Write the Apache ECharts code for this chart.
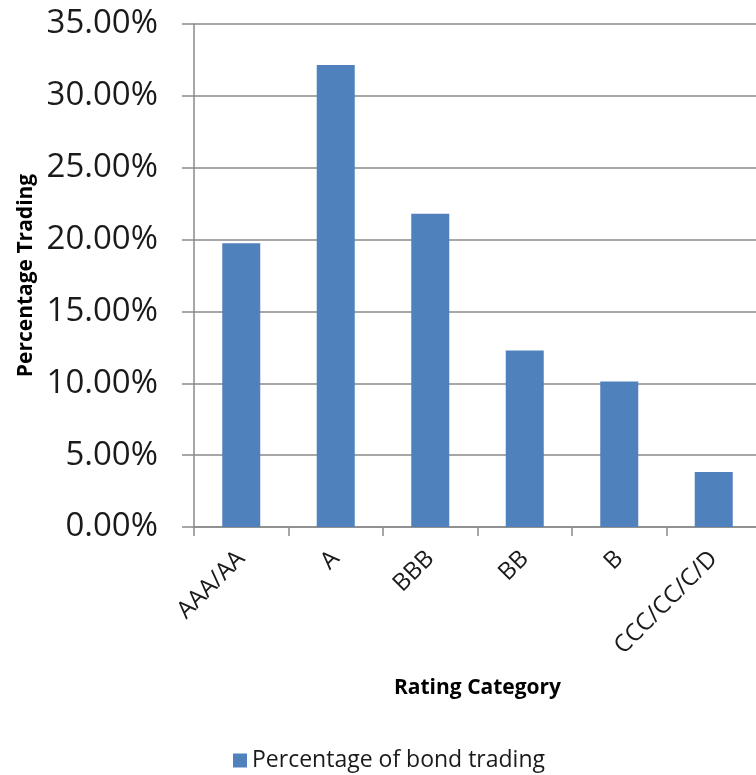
<!DOCTYPE html>
<html>
<head>
<meta charset="utf-8">
<script src="https://cdn.jsdelivr.net/npm/echarts@6/dist/echarts.min.js"></script>
<style>
  html, body { margin: 0; padding: 0; background: #ffffff; }
  #chart { width: 756px; height: 775px; }
</style>
</head>
<body>
<div id="chart"></div>
<script>
// Rating buckets and the share of bond trading in each (percent)
const categories = ['AAA/AA', 'A', 'BBB', 'BB', 'B', 'CCC/CC/C/D'];
const tradingShare = [19.75, 32.15, 21.79, 12.28, 10.12, 3.82];
const seriesName = 'Percentage of bond trading';
const yTicks = { min: 0, max: 35, interval: 5 };

const FONT = '"Open Sans", "DejaVu Sans", sans-serif';
const GRID_GREY = '#8a8a8a';

const chart = echarts.init(document.getElementById('chart'), null, { renderer: 'canvas' });

chart.setOption({
  animation: false,
  backgroundColor: '#ffffff',
  textStyle: { fontFamily: FONT, color: '#000000' },
  grid: {
    left: 194, top: 24, width: 567, height: 503,
    containLabel: false,
    outerBoundsMode: 'none'
  },
  legend: {
    data: [seriesName],
    left: 228,
    top: 744,
    icon: 'rect',
    itemWidth: 14,
    itemHeight: 14,
    itemGap: 6,
    textStyle: { fontFamily: FONT, fontSize: 23, color: '#1a1a1a' }
  },
  xAxis: {
    type: 'category',
    data: categories,
    name: 'Rating Category',
    nameLocation: 'middle',
    nameGap: 151,
    nameMoveOverlap: false,
    nameTextStyle: { fontFamily: FONT, fontSize: 21, fontWeight: 'bold', color: '#000000' },
    axisLine: { show: true, lineStyle: { color: GRID_GREY, width: 1.5 } },
    axisTick: { show: true, length: 9, alignWithLabel: false, lineStyle: { color: GRID_GREY, width: 1.5 } },
    axisLabel: {
      rotate: 45,
      margin: 28,
      fontFamily: FONT,
      fontSize: 24,
      color: '#1a1a1a'
    },
    splitLine: { show: false }
  },
  yAxis: {
    type: 'value',
    min: yTicks.min,
    max: yTicks.max,
    interval: yTicks.interval,
    name: 'Percentage Trading',
    nameLocation: 'middle',
    nameGap: 157,
    nameMoveOverlap: false,
    nameRotate: 90,
    nameTextStyle: { fontFamily: FONT, fontSize: 21, fontWeight: 'bold', color: '#000000' },
    axisLine: { show: true, lineStyle: { color: GRID_GREY, width: 1.5 } },
    axisTick: { show: true, length: 12, lineStyle: { color: GRID_GREY, width: 1.5 } },
    axisLabel: {
      margin: 36,
      fontFamily: FONT,
      fontSize: 33,
      color: '#1a1a1a',
      formatter: v => v.toFixed(2) + '%'
    },
    splitLine: { show: true, lineStyle: { color: GRID_GREY, width: 1.5 } }
  },
  series: [{
    name: seriesName,
    type: 'bar',
    data: tradingShare,
    barWidth: 38,
    itemStyle: { color: '#4F81BD' }
  }]
});
</script>
</body>
</html>
